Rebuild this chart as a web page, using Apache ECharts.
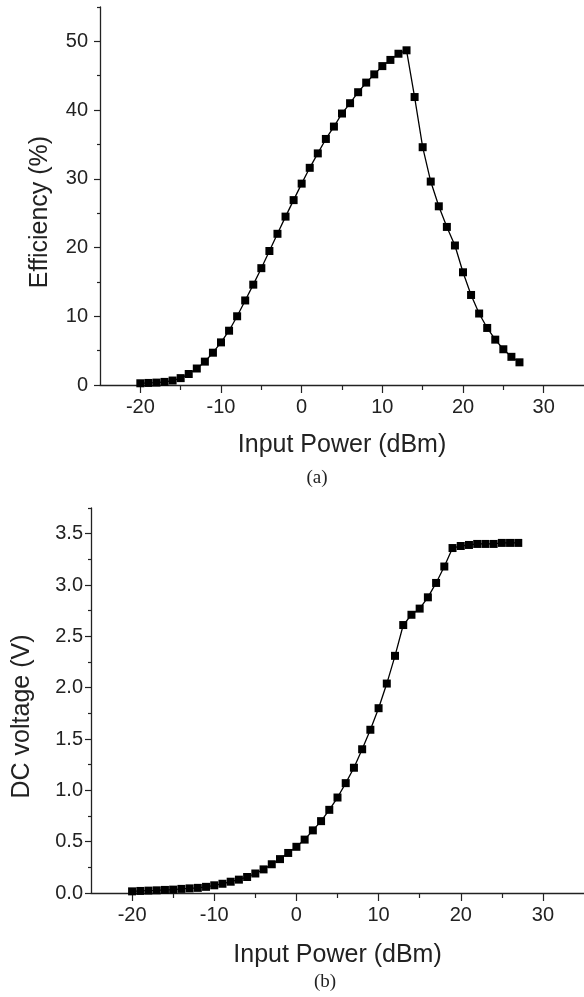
<!DOCTYPE html>
<html>
<head>
<meta charset="utf-8">
<script src="https://cdn.jsdelivr.net/npm/echarts@6/dist/echarts.min.js"></script>
<style>
html,body{margin:0;padding:0;background:#fff;}
#chart{width:584px;height:997px;}
</style>
</head>
<body>
<div id="chart"></div>
<script>
// Input power (dBm)
var inputPower = [-20,-19,-18,-17,-16,-15,-14,-13,-12,-11,-10,-9,-8,-7,-6,-5,-4,-3,-2,-1,0,1,2,3,4,5,6,7,8,9,10,11,12,13,14,15,16,17,18,19,20,21,22,23,24,25,26,27];
// Efficiency (%)
var efficiency = [0.25,0.3,0.35,0.45,0.65,1.0,1.6,2.4,3.4,4.7,6.2,7.9,10.0,12.3,14.6,17.0,19.5,22.0,24.5,26.9,29.3,31.6,33.7,35.8,37.6,39.5,41.0,42.6,44.0,45.2,46.4,47.3,48.2,48.7,41.9,34.6,29.6,26.0,23.0,20.3,16.4,13.1,10.4,8.3,6.6,5.2,4.1,3.3];
// DC voltage (V)
var dcVoltage = [0.016,0.02,0.023,0.026,0.03,0.033,0.04,0.045,0.05,0.06,0.075,0.09,0.11,0.13,0.156,0.19,0.23,0.28,0.33,0.39,0.45,0.52,0.61,0.70,0.81,0.93,1.07,1.22,1.40,1.59,1.80,2.04,2.31,2.61,2.71,2.77,2.88,3.02,3.18,3.36,3.38,3.39,3.40,3.40,3.40,3.41,3.41,3.41];
// Tick labels
var xTicks = [-20,-10,0,10,20,30];
var xMinorTicks = [-15,-5,5,15,25];
var effTicks = [0,10,20,30,40,50];
var effMinorTicks = [5,15,25,35,45,55];
var vTicks = [0,0.5,1.0,1.5,2.0,2.5,3.0,3.5];
var vMinorTicks = [0.25,0.75,1.25,1.75,2.25,2.75,3.25,3.75];

var FONT = '"Liberation Sans", Arial, sans-serif';
var AX = '#222';

function zip(xs, ys){ return xs.map(function(x,i){ return [x, ys[i]]; }); }

function mainX(grid, gap){
  return {
    type:'value', gridIndex:grid, min:-25, max:35, position:'bottom',
    name:'Input Power (dBm)', nameLocation:'middle', nameGap:gap,
    nameTextStyle:{fontFamily:FONT, fontSize:25, color:AX},
    axisLine:{show:true, onZero:false, lineStyle:{color:AX, width:1.3}},
    axisTick:{show:true, inside:false, length:8, customValues:xTicks, lineStyle:{color:AX, width:1.2}},
    axisLabel:{show:true, customValues:xTicks, margin:12, fontFamily:FONT, fontSize:20, color:AX},
    splitLine:{show:false}
  };
}
function minorX(grid){
  return {
    type:'value', gridIndex:grid, min:-25, max:35, position:'bottom',
    axisLine:{show:false, onZero:false},
    axisTick:{show:true, inside:false, length:5, customValues:xMinorTicks, lineStyle:{color:AX, width:1.2}},
    axisLabel:{show:false},
    splitLine:{show:false}
  };
}
function mainY(grid, max, ticks, name, gap, margin, fmt){
  return {
    type:'value', gridIndex:grid, min:0, max:max, position:'left',
    name:name, nameLocation:'middle', nameGap:gap, nameRotate:90,
    nameTextStyle:{fontFamily:FONT, fontSize:25, color:AX, padding:[0,32,0,0]},
    axisLine:{show:true, onZero:false, lineStyle:{color:AX, width:1.3}},
    axisTick:{show:true, inside:false, length:6, customValues:ticks, lineStyle:{color:AX, width:1.2}},
    axisLabel:{show:true, customValues:ticks, margin:margin, fontFamily:FONT, fontSize:20, color:AX, formatter:fmt},
    splitLine:{show:false}
  };
}
function minorY(grid, max, ticks){
  return {
    type:'value', gridIndex:grid, min:0, max:max, position:'left',
    axisLine:{show:false, onZero:false},
    axisTick:{show:true, inside:false, length:3, customValues:ticks, lineStyle:{color:AX, width:1.2}},
    axisLabel:{show:false},
    splitLine:{show:false}
  };
}

var chart = echarts.init(document.getElementById('chart'), null, {renderer:'canvas'});
chart.setOption({
  animation:false,
  backgroundColor:'#fff',
  grid:[
    {left:100, top:7, width:485, height:378},
    {left:91, top:508, width:494, height:385}
  ],
  xAxis:[ mainX(0, 48), minorX(0), mainX(1, 50), minorX(1) ],
  yAxis:[
    mainY(0, 55, effTicks, 'Efficiency (%)', 47, 12, function(v){ return String(v); }),
    minorY(0, 55, effMinorTicks),
    mainY(1, 3.75, vTicks, 'DC voltage (V)', 56, 8, function(v){ return v.toFixed(1); }),
    minorY(1, 3.75, vMinorTicks)
  ],
  series:[
    {type:'line', xAxisIndex:0, yAxisIndex:0, data:zip(inputPower, efficiency),
     symbol:'rect', symbolSize:8, itemStyle:{color:'#000'}, lineStyle:{color:'#000', width:1.3}},
    {type:'line', xAxisIndex:2, yAxisIndex:2, data:zip(inputPower, dcVoltage),
     symbol:'rect', symbolSize:8, itemStyle:{color:'#000'}, lineStyle:{color:'#000', width:1.3}}
  ],
  graphic:[
    {type:'text', style:{text:'(a)', x:317, y:478, align:'center', verticalAlign:'middle', fontFamily:'"Liberation Serif", "Times New Roman", serif', fontSize:19, fill:'#222'}},
    {type:'text', style:{text:'(b)', x:325, y:982, align:'center', verticalAlign:'middle', fontFamily:'"Liberation Serif", "Times New Roman", serif', fontSize:19, fill:'#222'}}
  ]
});
</script>
</body>
</html>
